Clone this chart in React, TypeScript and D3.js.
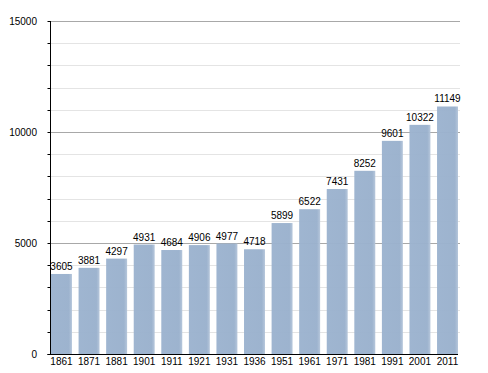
import React from "react";
import { scaleBand, scaleLinear, range } from "d3";

const years = ["1861", "1871", "1881", "1901", "1911", "1921", "1931", "1936", "1951", "1961", "1971", "1981", "1991", "2001", "2011"];
const population = [3605, 3881, 4297, 4931, 4684, 4906, 4977, 4718, 5899, 6522, 7431, 8252, 9601, 10322, 11149];
const majorTicks = [0, 5000, 10000, 15000];
const minorTicks = range(1000, 15000, 1000).filter((v) => v % 5000 !== 0);

const W = 488;
const H = 373;
const left = 50.5;
const right = 460;
const top = 21;
const bottom = 354;

const App = () => {
  const x = scaleBand<string>()
    .domain(years)
    .range([51, 458])
    .paddingInner(0.24)
    .paddingOuter(0);
  const y = scaleLinear().domain([0, 15000]).range([bottom, top]);
  const font = "'Liberation Sans', Arial, sans-serif";

  return (
    <svg width={W} height={H} style={{ position: "absolute", left: 0, top: 0, background: "#fff" }}>
      <defs>
        <linearGradient id="barGrad" x1="0" x2="1" y1="0" y2="0">
          <stop offset="0" stopColor="#9cb3cf" />
          <stop offset="0.85" stopColor="#9ab1cd" />
          <stop offset="1" stopColor="#b4c5da" />
        </linearGradient>
      </defs>
      {minorTicks.map((v) => (
        <line key={"g" + v} x1={left} x2={right} y1={Math.round(y(v)) + 0.5} y2={Math.round(y(v)) + 0.5} stroke="#e4e4e4" />
      ))}
      {majorTicks.slice(1).map((v) => (
        <line key={"m" + v} x1={left} x2={right} y1={Math.round(y(v)) + 0.5} y2={Math.round(y(v)) + 0.5} stroke="#a8a8a8" />
      ))}
      {years.map((yr, i) => (
        <rect
          key={yr}
          x={x(yr)}
          y={y(population[i])}
          width={x.bandwidth()}
          height={bottom - y(population[i])}
          fill="url(#barGrad)"
          opacity={0.97}
        />
      ))}
      {years.map((yr, i) => (
        <text
          key={"l" + yr}
          x={(x(yr) as number) + x.bandwidth() / 2}
          y={y(population[i]) - 4}
          textAnchor="middle"
          fontFamily={font}
          fontSize={10}
          fill="#000"
        >
          {population[i]}
        </text>
      ))}
      {/* axes */}
      <line x1={left} x2={left} y1={top} y2={bottom} stroke="#000" />
      <line x1={left - 3} x2={458} y1={bottom + 0.5} y2={bottom + 0.5} stroke="#000" />
      {minorTicks.concat(majorTicks).map((v) => (
        <line key={"t" + v} x1={left - 3} x2={left} y1={Math.round(y(v)) + 0.5} y2={Math.round(y(v)) + 0.5} stroke="#000" />
      ))}
      {majorTicks.map((v) => (
        <text key={"yl" + v} x={37} y={y(v) + 3.5} textAnchor="end" fontFamily={font} fontSize={10} fill="#000">
          {v}
        </text>
      ))}
      {years.map((yr) => (
        <text
          key={"xl" + yr}
          x={(x(yr) as number) + x.bandwidth() / 2}
          y={365}
          textAnchor="middle"
          fontFamily={font}
          fontSize={10}
          fill="#000"
        >
          {yr}
        </text>
      ))}
    </svg>
  );
};

export default App;
